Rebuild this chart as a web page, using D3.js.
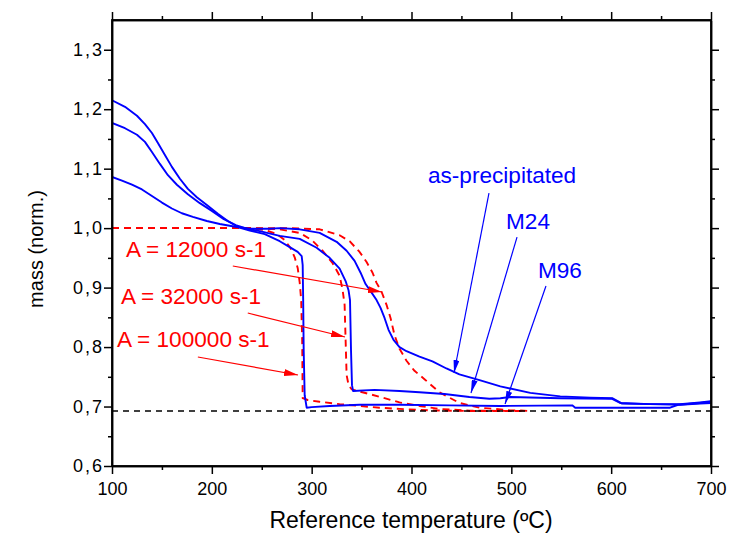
<!DOCTYPE html>
<html lang="en">
<head>
<meta charset="UTF-8">
<title>Mass vs reference temperature</title>
<script src="https://d3js.org/d3.v7.min.js"></script>
<style>
  body { margin: 0; background: #fff; }
  svg { font-family: "Liberation Sans", Arial, sans-serif; }
  .axis path, .axis line { stroke: #000; stroke-width: 1.5; }
  .axis text { font-size: 18px; fill: #000; }
  .y-axis text { letter-spacing: 2px; }
  .curve { fill: none; stroke-width: 1.9; stroke-linejoin: round; }
</style>
</head>
<body>
<svg id="chart" width="731" height="539"></svg>
<script>
// measured curves, [temperature, normalised mass]
const asPrecipitated = [[100,1.215],[113,1.204],[125,1.189],[133,1.175],[140,1.160],[146,1.143],[153,1.123],[160,1.103],[168,1.083],[176,1.066],[185,1.052],[195,1.039],[206,1.024],[216,1.012],[226,1.002],[238,0.999],[258,0.999],[268,1.0],[288,0.998],[308,0.992],[325,0.977],[335,0.962],[343,0.945],[349,0.925],[354,0.906],[359,0.894],[365,0.879],[369,0.866],[373,0.849],[377,0.829],[382,0.812],[388,0.800],[395,0.793],[408,0.784],[421,0.776],[435,0.764],[448,0.754],[469,0.744],[489,0.734],[519,0.723],[549,0.717],[579,0.715],[601,0.714],[611,0.705],[639,0.704],[669,0.704],[689,0.707],[700,0.709]];
const m24 = [[100,1.177],[113,1.168],[125,1.157],[133,1.145],[140,1.128],[148,1.108],[156,1.089],[165,1.073],[176,1.057],[188,1.042],[200,1.029],[212,1.015],[224,1.005],[235,0.999],[248,0.995],[268,0.987],[288,0.982],[305,0.967],[318,0.950],[328,0.932],[334,0.911],[337,0.895],[338.4,0.879],[339.4,0.795],[340.4,0.736],[341.5,0.726],[363,0.728],[388,0.726],[408,0.724],[433,0.721],[458,0.716],[478,0.713],[489,0.714],[499,0.716],[549,0.714],[601,0.713],[609,0.706],[639,0.704],[669,0.703],[689,0.705],[700,0.706]];
const m96 = [[100,1.086],[110,1.080],[120,1.073],[130,1.065],[140,1.054],[150,1.043],[160,1.033],[170,1.025],[181,1.019],[195,1.012],[208,1.007],[225,1.002],[238,0.996],[253,0.990],[268,0.978],[278,0.968],[286,0.960],[290,0.953],[291,0.938],[291.5,0.879],[292,0.795],[293,0.719],[295,0.698],[300,0.699],[318,0.701],[348,0.703],[388,0.703],[438,0.702],[489,0.701],[561,0.702],[564,0.698],[659,0.698],[667,0.703],[689,0.706],[700,0.708]];

// model curves
const fitA100000 = [[100,1.0],[238,1.0],[253,0.997],[265,0.990],[273,0.980],[279,0.966],[283,0.951],[286,0.933],[288,0.909],[289.5,0.879],[290.5,0.812],[291,0.714],[296,0.711],[308,0.708],[328,0.704],[348,0.701],[368,0.698],[388,0.696],[418,0.6935],[458,0.6925],[510,0.6925]];
const fitA32000 = [[100,1.0],[238,1.0],[268,0.998],[288,0.992],[300,0.980],[311,0.962],[321,0.941],[328,0.920],[331,0.896],[333,0.871],[334,0.812],[335,0.753],[337,0.736],[340,0.729],[346,0.726],[358,0.721],[373,0.714],[388,0.707],[408,0.701],[428,0.696],[458,0.693],[510,0.6925]];
const fitA12000 = [[100,1.0],[278,1.0],[308,0.998],[328,0.988],[338,0.978],[348,0.960],[355,0.943],[361,0.925],[365,0.908],[370,0.893],[375,0.871],[379,0.849],[383,0.820],[388,0.797],[395,0.777],[403,0.760],[413,0.746],[428,0.724],[448,0.706],[468,0.698],[498,0.694],[520,0.6925]];

const finalMass = 0.6925;

const xTicks = [100, 200, 300, 400, 500, 600, 700];
const xMinor = [150, 250, 350, 450, 550, 650];
const yTicks = [0.6, 0.7, 0.8, 0.9, 1.0, 1.1, 1.2, 1.3];
const yMinor = [0.65, 0.75, 0.85, 0.95, 1.05, 1.15, 1.25];

// annotation text, anchored in data coordinates
const fitLabels = [
    { text: "A = 12000 s-1", t: 114, m: 0.9514, tx: 221, my: 0.9363, t2: 370.5, m2: 0.8926 },
    { text: "A = 32000 s-1", t: 109, m: 0.8724, tx: 236, my: 0.8573, t2: 333.4, m2: 0.8169 },
    { text: "A = 100000 s-1", t: 105, m: 0.800, tx: 186, my: 0.7833, t2: 286.3, m2: 0.753 }
];
const sampleLabels = [
    { text: "as-precipitated", t: 416.5, m: 1.0759, tx: 477.6, my: 1.059, t2: 442.6, m2: 0.7564 },
    { text: "M24", t: 494.7, m: 0.9985, tx: 505.7, my: 0.985, t2: 459.6, m2: 0.7228 },
    { text: "M96", t: 526.7, m: 0.916, tx: 534.7, my: 0.9027, t2: 493.7, m2: 0.7043 }
];

const blue = "#0000ff", red = "#ff0000";

const svg = d3.select("#chart");
const plotLeft = 112, plotRight = 711, plotTop = 20, plotBottom = 466;

const x = d3.scaleLinear().domain([100, 700]).range([plotLeft, plotRight]);
const y = d3.scaleLinear().domain([0.6, 1.35]).range([plotBottom, plotTop]);

const defs = svg.append("defs");
defs.append("clipPath").attr("id", "plot")
    .append("rect").attr("x", plotLeft).attr("y", plotTop)
    .attr("width", plotRight - plotLeft).attr("height", plotBottom - plotTop);

function marker(id, color, len, wid) {
    defs.append("marker")
        .attr("id", id)
        .attr("markerUnits", "userSpaceOnUse")
        .attr("markerWidth", len).attr("markerHeight", wid)
        .attr("refX", len).attr("refY", wid / 2)
        .attr("orient", "auto")
        .append("path")
        .attr("d", `M0,0L${len},${wid / 2}L0,${wid}Z`)
        .attr("fill", color);
}
marker("arrRed", red, 14, 7);
marker("arrBlue", blue, 13, 6);

const line = d3.line().x(d => x(d[0])).y(d => y(d[1]));

const plot = svg.append("g").attr("clip-path", "url(#plot)");

// model fits
[fitA12000, fitA32000, fitA100000].forEach(c => {
    plot.append("path").datum(c)
        .attr("class", "curve")
        .attr("d", line)
        .attr("stroke", red)
        .attr("stroke-dasharray", "7,5");
});

// final mass
plot.append("line")
    .attr("x1", x(100)).attr("x2", x(700))
    .attr("y1", y(finalMass)).attr("y2", y(finalMass))
    .attr("stroke", "#000").attr("stroke-width", 1.5)
    .attr("stroke-dasharray", "6,5");

// experiments
[asPrecipitated, m24, m96].forEach(c => {
    plot.append("path").datum(c)
        .attr("class", "curve")
        .attr("d", line)
        .attr("stroke", blue);
});

// axes
const fmtY = d => d.toFixed(1).replace(".", ",");

function addAxis(axis, transform, ticks, size, labels, cls) {
    const g = svg.append("g").attr("class", "axis " + (cls || ""))
        .attr("transform", transform)
        .call(axis.tickValues(ticks).tickSize(size).tickSizeOuter(0));
    if (!labels) g.selectAll("text").remove();
    return g;
}

addAxis(d3.axisBottom(x).tickFormat(d3.format("d")).tickPadding(8), `translate(0,${plotBottom})`, xTicks, 8, true);
addAxis(d3.axisBottom(x), `translate(0,${plotBottom})`, xMinor, 4, false);
addAxis(d3.axisTop(x), `translate(0,${plotTop})`, xTicks, 8, false);
addAxis(d3.axisTop(x), `translate(0,${plotTop})`, xMinor, 4, false);
addAxis(d3.axisLeft(y).tickFormat(fmtY).tickPadding(0), `translate(${plotLeft},0)`, yTicks, 8, true, "y-axis");
addAxis(d3.axisLeft(y), `translate(${plotLeft},0)`, yMinor, 4, false);
addAxis(d3.axisRight(y), `translate(${plotRight},0)`, yTicks, 8, false);
addAxis(d3.axisRight(y), `translate(${plotRight},0)`, yMinor, 4, false);

svg.append("rect")
    .attr("x", plotLeft).attr("y", plotTop)
    .attr("width", plotRight - plotLeft).attr("height", plotBottom - plotTop)
    .attr("fill", "none").attr("stroke", "#000").attr("stroke-width", 1.8);

// annotations
function annotate(list, color, mark) {
    list.forEach(a => {
        svg.append("line")
            .attr("x1", x(a.tx)).attr("y1", y(a.my))
            .attr("x2", x(a.t2)).attr("y2", y(a.m2))
            .attr("stroke", color).attr("stroke-width", 1.2)
            .attr("marker-end", `url(#${mark})`);
        svg.append("text")
            .attr("x", x(a.t)).attr("y", y(a.m))
            .attr("fill", color)
            .style("font-size", "22.6px")
            .text(a.text);
    });
}
annotate(fitLabels, red, "arrRed");
annotate(sampleLabels, blue, "arrBlue");

// axis titles
svg.append("text")
    .attr("x", 411).attr("y", 528)
    .attr("text-anchor", "middle")
    .style("font-size", "23px")
    .text("Reference temperature (ºC)");

svg.append("text")
    .attr("transform", `translate(43,249) rotate(-90)`)
    .attr("text-anchor", "middle")
    .style("font-size", "20px")
    .text("mass (norm.)");
</script>
</body>
</html>
